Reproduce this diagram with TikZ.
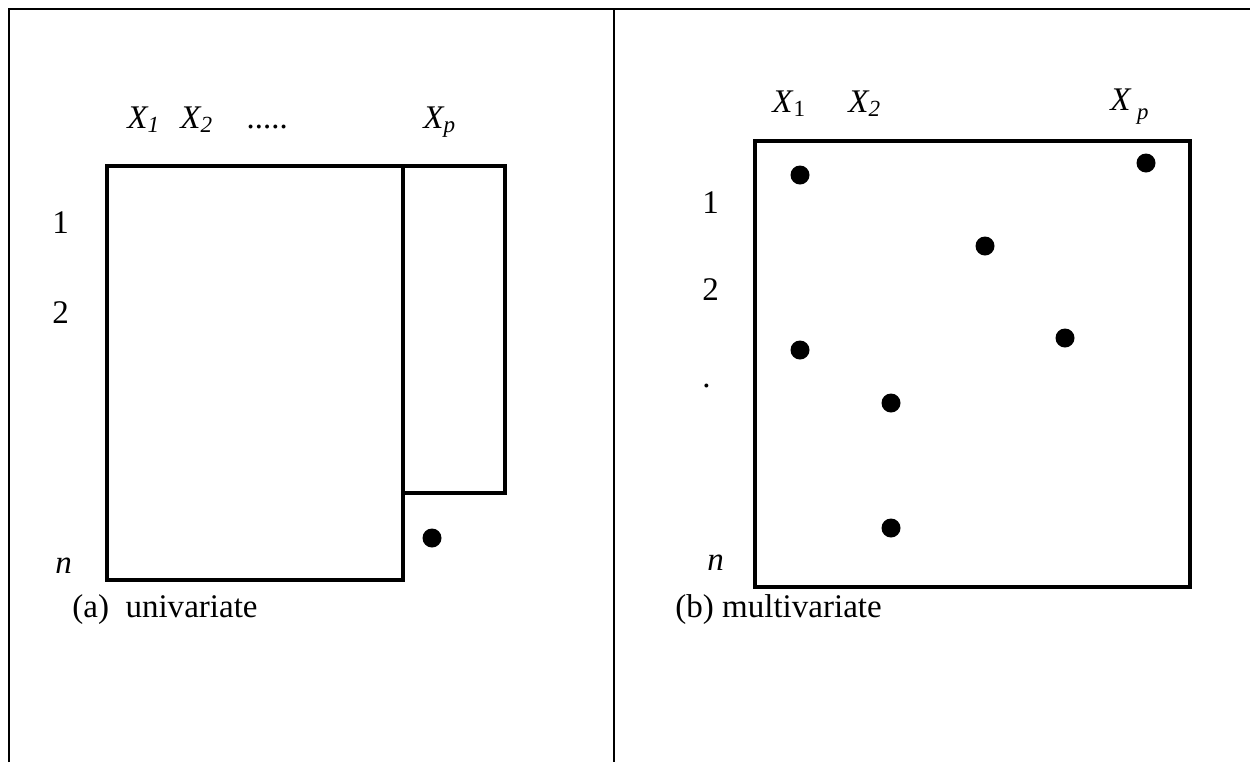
\documentclass[tikz,border=0pt]{standalone}
\usepackage{fontspec}
\setmainfont{Liberation Serif}
\usepackage{tikz}

\begin{document}
\begin{tikzpicture}[x=0.02cm, y=-0.02cm,
  lbl/.style={inner sep=0pt, anchor=base west, font=\fontsize{18.8}{22}\selectfont},
  box/.style={draw, line width=2.5pt},
  frm/.style={draw, line width=1.1pt},
  dot/.style={circle, fill, inner sep=0pt, minimum size=0.38cm}
]
\useasboundingbox (0,0) rectangle (1250,762);
% frame
\draw[frm] (9,762) -- (9,9) -- (1250,9);
\draw[frm] (614,9) -- (614,762);

% (a) univariate
\draw[box] (107,166) rectangle (403,580);
\draw[box] (403,166) rectangle (505,493);
\node[dot] (da) at (432,538) {};
\node[lbl] (x1a) at (127,128) {\textit{X\textsubscript{1}}};
\node[lbl] (x2a) at (180,128) {\textit{X\textsubscript{2}}};
\node[lbl] (dots) at (247,128) {\textit{.....}};
\node[lbl] (xpa) at (423,128) {\textit{X\textsubscript{p}}};
\node[lbl] (r1a) at (52,233) {1};
\node[lbl] (r2a) at (52,323) {2};
\node[lbl] (rna) at (55,573) {\textit{n}};
\node[lbl] (capa) at (72,617) {(a)\ \ univariate};

% (b) multivariate
\draw[box] (755,141) rectangle (1190,587);
\foreach \px/\py [count=\i] in {800/175, 1146/163, 985/246, 1065/338, 800/350, 891/403, 891/528}
  \node[dot] (db\i) at (\px,\py) {};
\node[lbl] (x1b) at (772,112) {\textit{X}\textsubscript{1}};
\node[lbl] (x2b) at (848,112) {\textit{X\textsubscript{2}}};
\node[lbl] (xpb) at (1110,110) {\textit{X}\,\raisebox{-5.5pt}{\fontsize{13}{15}\selectfont\textit{p}}};
\node[lbl] (r1b) at (702,213) {1};
\node[lbl] (r2b) at (702,300) {2};
\node[lbl] (r3b) at (702,387) {.};
\node[lbl] (rnb) at (707,570) {\textit{n}};
\node[lbl] (capb) at (675,617) {(b) multivariate};
\end{tikzpicture}
\end{document}
